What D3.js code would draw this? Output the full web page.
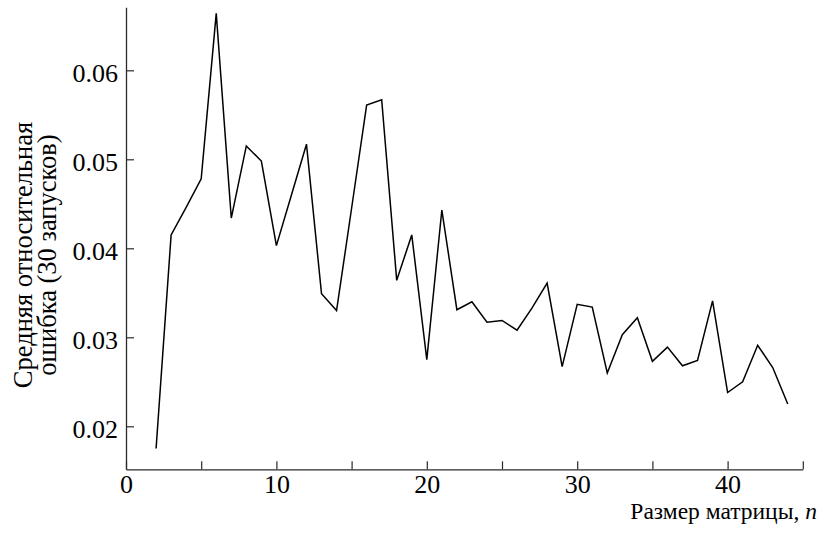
<!DOCTYPE html>
<html>
<head>
<meta charset="utf-8">
<script src="https://cdn.jsdelivr.net/npm/d3@7"></script>
<style>
  html, body { margin: 0; padding: 0; background: #fff; }
  svg { display: block; }
</style>
</head>
<body>
<svg id="chart" width="825" height="533"></svg>
<script>
const sizes = [2,3,4,5,6,7,8,9,10,11,12,13,14,15,16,17,18,19,20,21,22,23,24,25,26,27,28,29,30,31,32,33,34,35,36,37,38,39,40,41,42,43,44];
const meanError = [0.0175,0.0415,0.0446,0.0478,0.0664,0.0434,0.0515,0.0498,0.0403,0.0460,0.0517,0.0349,0.0330,0.0445,0.0561,0.0567,0.0364,0.0415,0.0275,0.0443,0.0331,0.0340,0.0317,0.0319,0.0308,0.0333,0.0361,0.0267,0.0337,0.0334,0.0260,0.0303,0.0322,0.0273,0.0289,0.0268,0.0274,0.0341,0.0238,0.0250,0.0291,0.0266,0.0225];
const xTicks = [0,5,10,15,20,25,30,35,40,45];
const xTickLabels = ["0","","10","","20","","30","","40",""];
const yTicks = [0.02,0.03,0.04,0.05,0.06];
const yTickLabels = ["0.02","0.03","0.04","0.05","0.06"];
const xTitle = "Размер матрицы, ";
const xTitleVar = "n";
const yTitleLines = ["Средняя относительная", "ошибка (30 запусков)"];

const svg = d3.select("#chart");
const x = d3.scaleLinear().domain([0, 45]).range([126, 802.8]);
const y = d3.scaleLinear().domain([0.01517, 0.06708]).range([469.3, 7.3]);

const axisColor = "#2a2a2a";
const serif = '"Times New Roman"';

const gx = svg.append("g").attr("transform", "translate(0,469.3)")
  .call(d3.axisBottom(x).tickValues(xTicks).tickSizeInner(-8).tickSizeOuter(0).tickPadding(5.5)
    .tickFormat((d,i) => xTickLabels[i]));
gx.attr("font-family", null).attr("font-size", null);
gx.select(".domain").attr("stroke", axisColor).attr("stroke-width", 1.3);
gx.selectAll(".tick line").attr("stroke", axisColor).attr("stroke-width", 1.2);
gx.selectAll(".tick text").style("font-size", "26px").attr("fill", "#000")
  .style("font-family", serif);

const gy = svg.append("g").attr("transform", "translate(126,0)")
  .call(d3.axisLeft(y).tickValues(yTicks).tickSizeInner(-8).tickSizeOuter(0).tickPadding(8)
    .tickFormat((d,i) => yTickLabels[i]));
gy.attr("font-family", null).attr("font-size", null);
gy.select(".domain").attr("stroke", axisColor).attr("stroke-width", 1.3);
gy.selectAll(".tick line").attr("stroke", axisColor).attr("stroke-width", 1.2);
gy.selectAll(".tick text").style("font-size", "26px").attr("fill", "#000").attr("dy", "0.42em")
  .style("font-family", serif);

const line = d3.line().x((d,i) => x(sizes[i])).y(d => y(d));
svg.append("path").datum(meanError)
  .attr("d", line)
  .attr("fill", "none")
  .attr("stroke", "#000")
  .attr("stroke-width", 1.5)
  .attr("stroke-linejoin", "miter");

const xt = svg.append("text").attr("x", 817).attr("y", 519).attr("text-anchor", "end")
  .style("font-size", "23.5px").style("font-family", serif).attr("fill", "#000");
xt.append("tspan").text(xTitle);
xt.append("tspan").style("font-style", "italic").text(xTitleVar);

const yt = svg.append("g").attr("transform", "translate(0,255) rotate(-90)");
yTitleLines.forEach((t, i) => {
  yt.append("text").attr("x", 0).attr("y", 32 + i * 24).attr("text-anchor", "middle")
    .style("font-size", "26.5px").style("font-family", serif).attr("fill", "#000").text(t);
});
</script>
</body>
</html>
